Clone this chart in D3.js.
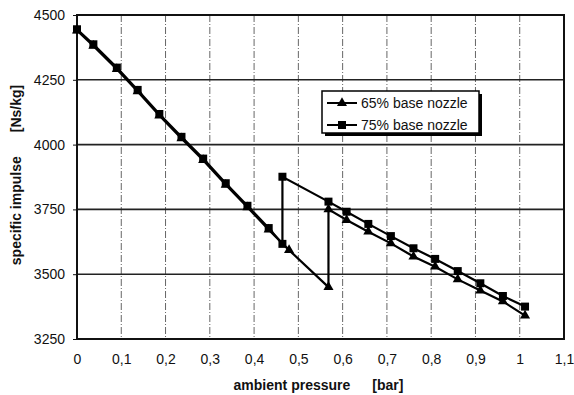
<!DOCTYPE html>
<html>
<head>
<meta charset="utf-8">
<script src="https://cdn.jsdelivr.net/npm/d3@7"></script>
<style>
  body { margin: 0; background: #fff; }
  text { font-family: Arial, "Liberation Sans", sans-serif; fill: #111; }
</style>
</head>
<body>
<div id="chart"></div>
<script>
// values
const pressure75 = [0, 0.037, 0.09, 0.137, 0.186, 0.236, 0.285, 0.336, 0.385, 0.433, 0.464, 0.464, 0.568, 0.609, 0.658, 0.709, 0.76, 0.809, 0.86, 0.911, 0.962, 1.012];
const impulse75 = [4445, 4387, 4297, 4211, 4118, 4030, 3946, 3851, 3764, 3678, 3617, 3876, 3780, 3741, 3694, 3647, 3600, 3559, 3512, 3465, 3416, 3375];

const pressure65 = [0, 0.037, 0.09, 0.137, 0.186, 0.236, 0.285, 0.336, 0.385, 0.433, 0.479, 0.568, 0.568, 0.609, 0.658, 0.709, 0.76, 0.809, 0.86, 0.911, 0.962, 1.012];
const impulse65 = [4440, 4381, 4291, 4205, 4112, 4024, 3940, 3845, 3758, 3672, 3593, 3450, 3750, 3709, 3664, 3619, 3568, 3529, 3480, 3437, 3395, 3340];

const xTicks = [0, 0.1, 0.2, 0.3, 0.4, 0.5, 0.6, 0.7, 0.8, 0.9, 1, 1.1];
const yTicks = [3250, 3500, 3750, 4000, 4250, 4500];
const seriesNames = ['65% base nozzle', '75% base nozzle'];

const width = 574;
const height = 395;
const margin = { top: 15, right: 10, bottom: 56, left: 77 };

const svg = d3.select('#chart')
    .append('svg')
    .attr('width', width)
    .attr('height', height);

const x = d3.scaleLinear()
    .domain([0, 1.1])
    .range([margin.left, width - margin.right]);

const y = d3.scaleLinear()
    .domain([3250, 4500])
    .range([height - margin.bottom, margin.top]);

const fmt = d => String(+d.toFixed(1)).replace('.', ',');

// vertical grid, dashed
svg.append('g')
    .selectAll('line')
    .data(xTicks.filter(d => d > 0 && d < 1.1))
    .join('line')
    .attr('x1', d => x(d)).attr('x2', d => x(d))
    .attr('y1', y(4500)).attr('y2', y(3250))
    .attr('stroke', '#666')
    .attr('stroke-width', 1)
    .attr('stroke-dasharray', '7,2,1,2');

// horizontal grid, solid
svg.append('g')
    .selectAll('line')
    .data(yTicks.filter(d => d > 3250 && d < 4500))
    .join('line')
    .attr('x1', x(0)).attr('x2', x(1.1))
    .attr('y1', d => y(d)).attr('y2', d => y(d))
    .attr('stroke', '#222')
    .attr('stroke-width', 1.6);

// frame
svg.append('rect')
    .attr('x', x(0)).attr('y', y(4500))
    .attr('width', x(1.1) - x(0))
    .attr('height', y(3250) - y(4500))
    .attr('fill', 'none')
    .attr('stroke', '#111')
    .attr('stroke-width', 2);

// axes
const yAxis = d3.axisLeft(y).tickValues(yTicks).tickFormat(d3.format('d')).tickSize(4).tickPadding(8);
svg.append('g')
    .attr('transform', `translate(${x(0)},0)`)
    .call(yAxis)
    .call(g => g.select('.domain').remove())
    .call(g => g.selectAll('line').attr('stroke', '#111'))
    .call(g => g.selectAll('text').style('font-size', '14px').attr('font-family', null));

const xAxis = d3.axisBottom(x).tickValues(xTicks).tickFormat(fmt).tickSize(0).tickPadding(15);
svg.append('g')
    .attr('transform', `translate(0,${y(3250)})`)
    .call(xAxis)
    .call(g => g.select('.domain').remove())
    .call(g => g.selectAll('text').style('font-size', '14px').attr('font-family', null));

// axis titles
const xTitle = svg.append('text')
    .attr('x', x(0.55) - 2)
    .attr('y', 390)
    .attr('text-anchor', 'middle')
    .style('font-size', '14px')
    .style('font-weight', 'bold');
xTitle.append('tspan').text('ambient pressure');
xTitle.append('tspan').attr('dx', 22).text('[bar]');

const yTitle = svg.append('text')
    .attr('transform', `translate(21,${y(3875) - 2}) rotate(-90)`)
    .attr('text-anchor', 'middle')
    .style('font-size', '14px')
    .style('font-weight', 'bold');
yTitle.append('tspan').text('specific impulse');
yTitle.append('tspan').attr('dx', 24).text('[Ns/kg]');

// series
const line = d3.line()
    .x(d => x(d[0]))
    .y(d => y(d[1]));

const data65 = pressure65.map((p, i) => [p, impulse65[i]]);
const data75 = pressure75.map((p, i) => [p, impulse75[i]]);

const triangle = d3.symbol().type(d3.symbolTriangle).size(44);
const square = d3.symbol().type(d3.symbolSquare).size(64);

svg.append('path')
    .datum(data65)
    .attr('fill', 'none')
    .attr('stroke', '#000')
    .attr('stroke-width', 2.2)
    .attr('d', line);

svg.append('path')
    .datum(data75)
    .attr('fill', 'none')
    .attr('stroke', '#000')
    .attr('stroke-width', 2.2)
    .attr('d', line);

svg.append('g')
    .selectAll('path')
    .data(data65)
    .join('path')
    .attr('transform', d => `translate(${x(d[0])},${y(d[1])})`)
    .attr('d', triangle)
    .attr('fill', '#000');

svg.append('g')
    .selectAll('path')
    .data(data75)
    .join('path')
    .attr('transform', d => `translate(${x(d[0])},${y(d[1])})`)
    .attr('d', square)
    .attr('fill', '#000');

// legend
const legend = svg.append('g').attr('transform', 'translate(322,91)');
legend.append('rect')
    .attr('x', 3).attr('y', 3)
    .attr('width', 157).attr('height', 42)
    .attr('fill', '#000');
legend.append('rect')
    .attr('width', 157).attr('height', 42)
    .attr('fill', '#fff')
    .attr('stroke', '#000')
    .attr('stroke-width', 1.5);

const items = legend.selectAll('g.item')
    .data(seriesNames)
    .join('g')
    .attr('class', 'item')
    .attr('transform', (d, i) => `translate(0,${12 + i * 22})`);

items.append('line')
    .attr('x1', 5).attr('x2', 35)
    .attr('stroke', '#000')
    .attr('stroke-width', 2);

items.append('path')
    .attr('transform', 'translate(20,0)')
    .attr('d', (d, i) => i === 0 ? triangle() : square())
    .attr('fill', '#000');

items.append('text')
    .attr('x', 39)
    .attr('dy', '0.36em')
    .style('font-size', '14px')
    .text(d => d);
</script>
</body>
</html>
